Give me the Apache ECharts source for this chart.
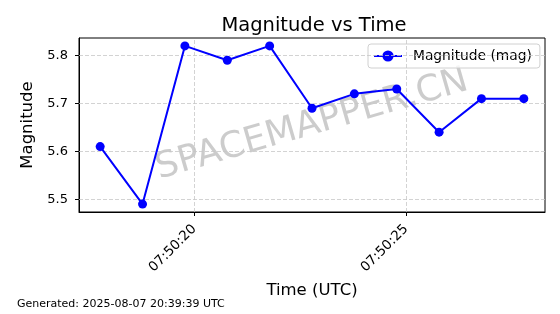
<!DOCTYPE html>
<html><head><meta charset="utf-8">
<script src="https://cdn.jsdelivr.net/npm/echarts@6/dist/echarts.min.js"></script>
<style>html,body{margin:0;padding:0;background:#fff}#c{width:560px;height:314px}</style>
</head><body><div id="c"></div>
<script>
const times = ['07:50:17.78','07:50:18.78','07:50:19.78','07:50:20.78','07:50:21.78','07:50:22.78','07:50:23.78','07:50:24.78','07:50:25.78','07:50:26.78','07:50:27.78'];
const magnitudes = [5.61, 5.49, 5.82, 5.79, 5.82, 5.69, 5.72, 5.73, 5.64, 5.71, 5.71];
const xTickLabels = ['07:50:20', '07:50:25'];
const yTicks = [5.5, 5.6, 5.7, 5.8];

function toSec(t){ const p=t.split(':'); return (+p[0])*3600+(+p[1])*60+(+p[2]); }
const base = toSec('07:50:00');
const xs = times.map(t => toSec(t) - base);
const xTicks = xTickLabels.map(t => toSec(t) - base);
const data = xs.map((x,i) => [x, magnitudes[i]]);
const xMin = xs[0] - 0.05*(xs[xs.length-1]-xs[0]);
const xMax = xs[xs.length-1] + 0.05*(xs[xs.length-1]-xs[0]);
const yLo = Math.min(...magnitudes), yHi = Math.max(...magnitudes);
const yMin = yLo - 0.05*(yHi-yLo), yMax = yHi + 0.05*(yHi-yLo);
function fmt(v){ const s=Math.round(v+base); const h=Math.floor(s/3600), m=Math.floor(s%3600/60), ss=s%60; return [h,m,ss].map(n=>String(n).padStart(2,'0')).join(':'); }

const font = 'DejaVu Sans';
const grid = {left:79, right:15, top:38, bottom:102, show:true, borderColor:'#000', borderWidth:1, backgroundColor:'transparent'};
const chart = echarts.init(document.getElementById('c'), null, {renderer:'canvas'});
chart.setOption({
  animation:false,
  textStyle:{fontFamily:font},
  title:{text:'Magnitude vs Time', left:309, top:11, textAlign:'center', textStyle:{fontFamily:font, fontSize:19.5, fontWeight:'normal', color:'#000'}},
  grid: grid,
  legend:{data:['Magnitude (mag)'], left:368, top:44, orient:'vertical', padding:[5,8,5,5], itemWidth:28, itemHeight:14, lineStyle:{width:2, type:'solid'}, borderColor:'#d0d0d0', borderWidth:1, borderRadius:3, backgroundColor:'rgba(255,255,255,0.8)', textStyle:{fontFamily:font, fontSize:13.8, color:'#000', padding:[0,0,0,6]}},
  xAxis:{type:'value', min:xMin, max:xMax, name:'Time (UTC)', nameLocation:'middle', nameGap:70, nameTextStyle:{fontFamily:font, fontSize:16.5, color:'#000'},
    axisLine:{show:true, lineStyle:{color:'#000', width:1}},
    axisTick:{show:true, length:4, customValues:xTicks, lineStyle:{color:'#000'}},
    axisLabel:{show:true, customValues:xTicks, rotate:45, fontSize:13.5, color:'#000', fontFamily:font, margin:15, formatter:fmt},
    splitLine:{show:false}},
  yAxis:{type:'value', min:yMin, max:yMax, name:'Magnitude', nameLocation:'middle', nameGap:33, nameTextStyle:{fontFamily:font, fontSize:16.5, color:'#000'},
    axisLine:{show:true, lineStyle:{color:'#000', width:1}},
    axisTick:{show:true, length:4, customValues:yTicks, lineStyle:{color:'#000'}},
    axisLabel:{show:true, customValues:yTicks, fontSize:13, color:'#000', fontFamily:font, margin:11, formatter:v=>v.toFixed(1)},
    splitLine:{show:false}},
  graphic:[
    {type:'text', left:17, top:298.5, style:{text:'Generated: 2025-08-07 20:39:39 UTC', fontFamily:font, fontSize:11, fill:'#000'}},
    {type:'text', x:312, y:125, rotation:0.28, z:1, style:{text:'SPACEMAPPER.CN', fontFamily:font, fontSize:36, fill:'rgba(128,128,128,0.4)', align:'center', verticalAlign:'middle'}}
  ],
  series:[
    {type:'line', name:'Magnitude (mag)', data:data, color:'#0000ff', symbol:'circle', symbolSize:9, lineStyle:{width:2, color:'#0000ff'}, itemStyle:{color:'#0000ff'}, z:5,
     markLine:{silent:true, symbol:'none', label:{show:false}, animation:false, lineStyle:{type:[4,2], color:'#c8c8c8', width:0.8},
       data: xTicks.map(v=>({xAxis:v})).concat(yTicks.map(v=>({yAxis:v})))}}
  ]
});
</script></body></html>
